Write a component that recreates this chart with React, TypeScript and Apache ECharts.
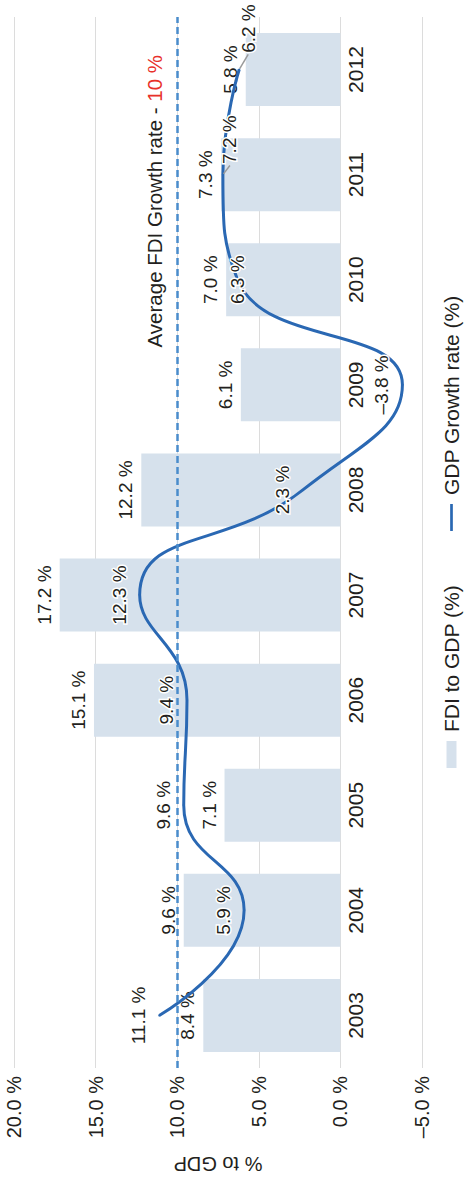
import React, { useEffect, useRef } from 'react';
import * as echarts from 'echarts';

// ---- Data ----
const years = ['2003', '2004', '2005', '2006', '2007', '2008', '2009', '2010', '2011', '2012'];
const fdiToGdp = [8.4, 9.6, 7.1, 15.1, 17.2, 12.2, 6.1, 7.0, 7.3, 5.8];
const gdpGrowth = [11.1, 5.9, 9.6, 9.4, 12.3, 2.3, -3.8, 6.3, 7.2, 6.2];
const averageFdiGrowth = 10;
const valueMin = -5;
const valueMax = 20;
const valueStep = 5;

const FONT = '"Liberation Sans", Arial, Helvetica, sans-serif';
const TEXT = '#231f20';
const BAR = '#d6e1ec';
const LINE = '#2a68b3';
const DASH = '#4a8ccb';
const GRID = '#dcdcdc';

const fmt = (v: number) => (v < 0 ? '\u2013' : '') + Math.abs(v).toFixed(1) + ' %';

// label placement tweaks for the GDP line (index -> label style / moved offset)
const lineLabelTweaks: Record<number, any> = {
  7: { position: 'inside' },
  8: { position: 'inside' },
  9: { position: 'inside' },
};
const lineLabelMoves: Record<number, { dx: number; dy: number }> = {
  8: { dx: 35, dy: 7 },
  9: { dx: 41, dy: 9 },
};

export default function App() {
  const ref = useRef<HTMLDivElement>(null);
  useEffect(() => {
    const chart = echarts.init(ref.current!, null, { renderer: 'svg' });
    const option: any = {
      animation: false,
      textStyle: { fontFamily: FONT, color: TEXT },
      grid: { left: 112, right: 17, top: 14, bottom: 43 },
      legend: {
        left: 414,
        top: 441,
        padding: 0,
        itemWidth: 27,
        itemHeight: 10,
        itemGap: 54,
        textStyle: { fontSize: 21, color: TEXT, fontFamily: FONT, padding: [0, 0, 0, 4] },
        data: [
          { name: 'FDI to GDP (%)', icon: 'rect' },
          { name: 'GDP Growth rate (%)', icon: 'path://M0,0 L30,0 L30,3 L0,3 Z' },
        ],
      },
      xAxis: {
        type: 'category',
        data: years,
        axisLine: { show: false, onZero: false },
        axisTick: { show: false },
        axisLabel: { fontSize: 21, color: TEXT, fontFamily: FONT, margin: -77 },
        splitLine: { show: false },
      },
      yAxis: {
        type: 'value',
        min: valueMin,
        max: valueMax,
        interval: valueStep,
        name: '% to GDP',
        nameLocation: 'middle',
        nameGap: 86,
        nameTextStyle: { fontSize: 20, color: TEXT, fontFamily: FONT },
        axisLine: { show: false },
        axisTick: { show: false },
        axisLabel: { fontSize: 20, color: TEXT, fontFamily: FONT, margin: 8, formatter: (v: number) => fmt(v) },
        splitLine: { show: true, lineStyle: { color: GRID, width: 1 } },
      },
      graphic: [
        {
          type: 'text',
          right: 55,
          top: 144,
          style: {
            text: '{a|Average FDI Growth rate - }{b|10 %}',
            fontSize: 20.5,
            fontFamily: FONT,
            rich: {
              a: { fontSize: 20.5, fontFamily: FONT, fill: TEXT },
              b: { fontSize: 20.5, fontFamily: FONT, fill: '#e8312a' },
            },
          },
        },
      ],
      series: [
        {
          name: 'FDI to GDP (%)',
          type: 'bar',
          data: fdiToGdp,
          barWidth: 73,
          itemStyle: { color: BAR },
          label: {
            show: true,
            position: 'top',
            distance: 6,
            fontSize: 19,
            color: TEXT,
            fontFamily: FONT,
            formatter: (p: any) => fmt(p.value),
          },
        },
        {
          name: 'GDP Growth rate (%)',
          type: 'line',
          smooth: 0.5,
          symbol: 'circle',
          symbolSize: 2,
          showSymbol: true,
          itemStyle: { color: LINE },
          lineStyle: { color: LINE, width: 3 },
          data: gdpGrowth.map((v, i) =>
            lineLabelTweaks[i]
              ? {
                  value: v,
                  label: lineLabelTweaks[i],
                  labelLine: lineLabelMoves[i]
                    ? { show: true, length2: 0, lineStyle: { color: '#9a9a9a', width: 1.5 } }
                    : undefined,
                }
              : v
          ),
          labelLayout: (p: any) => {
            if (p.seriesIndex !== 1) return {};
            const m = lineLabelMoves[p.dataIndex];
            return m ? { dx: m.dx, dy: m.dy } : {};
          },
          label: {
            show: true,
            position: 'top',
            distance: 10,
            fontSize: 19,
            color: TEXT,
            fontFamily: FONT,
            textBorderColor: '#fff',
            textBorderWidth: 3,
            formatter: (p: any) => fmt(p.value),
          },
          markLine: {
            silent: true,
            symbol: ['none', 'none'],
            label: { show: false },
            lineStyle: { color: DASH, type: [7, 4], width: 2.5 },
            data: [{ yAxis: averageFdiGrowth }],
          },
        },
      ],
    };
    chart.setOption(option);
    return () => chart.dispose();
  }, []);
  return (
    <div
      style={{
        position: 'fixed',
        left: 0,
        top: 0,
        width: 465,
        height: 1182,
        overflow: 'hidden',
        background: '#fff',
      }}
    >
      <div
        ref={ref}
        style={{
          position: 'absolute',
          left: 0,
          top: 0,
          width: 1182,
          height: 465,
          transformOrigin: '0 0',
          transform: 'rotate(-90deg) translateX(-1182px)',
        }}
      />
    </div>
  );
}
